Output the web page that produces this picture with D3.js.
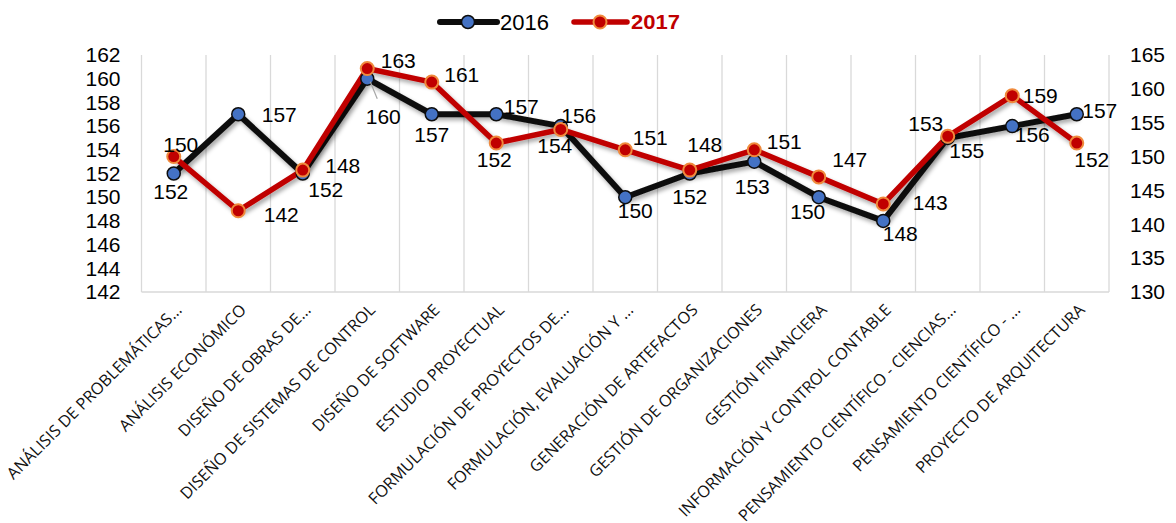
<!DOCTYPE html>
<html><head><meta charset="utf-8">
<script src="https://cdn.jsdelivr.net/npm/d3@7/dist/d3.min.js"></script>
<style>
body{margin:0;background:#fff;}
svg{display:block;}
</style></head>
<body>
<svg id="chart" width="1176" height="523"></svg>
<script>
const categories = [
  "ANÁLISIS DE PROBLEMÁTICAS...",
  "ANÁLISIS ECONÓMICO",
  "DISEÑO DE OBRAS DE...",
  "DISEÑO DE SISTEMAS DE CONTROL",
  "DISEÑO DE SOFTWARE",
  "ESTUDIO PROYECTUAL",
  "FORMULACIÓN DE PROYECTOS DE...",
  "FORMULACIÓN, EVALUACIÓN Y ...",
  "GENERACIÓN DE ARTEFACTOS",
  "GESTIÓN DE ORGANIZACIONES",
  "GESTIÓN FINANCIERA",
  "INFORMACIÓN Y CONTROL CONTABLE",
  "PENSAMIENTO CIENTÍFICO - CIENCIAS...",
  "PENSAMIENTO CIENTÍFICO - ...",
  "PROYECTO DE ARQUITECTURA"
];
const values2016 = [152,157,152,160,157,157,156,150,152,153,150,148,155,156,157];
const values2017 = [150,142,148,163,161,152,154,151,148,151,147,143,153,159,152];
const leftTicks = [142,144,146,148,150,152,154,156,158,160,162];
const rightTicks = [130,135,140,145,150,155,160,165];
const seriesNames = ["2016","2017"];

// label offsets (layout only)
const off2016 = [[-3,18],[41,0],[23,16],[16,38],[0,20],[25,-8],[18,-10],[10,13],[0,23],[-2,25],[-11,14],[17,13],[19,13],[20,9],[23,-4]];
const off2017 = [[7,-12],[43,4],[40,-4],[31,-8],[30,-7],[-2,17],[-6,16],[25,-12],[15,-25],[30,-8],[31,-17],[47,-1],[-22,-13],[28,0],[15,17]];

const svg = d3.select("#chart");
const pTop = 55, pBottom = 292, pLeft = 141.5, pRight = 1109;

const x = d3.scaleBand().domain(categories).range([pLeft, pRight]);
const yL = d3.scaleLinear().domain([142,162]).range([pBottom, pTop]);
const yR = d3.scaleLinear().domain([130,165]).range([pBottom, pTop]);

const defs = svg.append("defs");
const f = defs.append("filter").attr("id","sh").attr("x","-10%").attr("y","-10%").attr("width","120%").attr("height","130%");
f.append("feDropShadow").attr("dx",2).attr("dy",3).attr("stdDeviation",2).attr("flood-color","#000").attr("flood-opacity",0.35);

// gridlines
const bounds = categories.map(c => x(c)).concat([pRight]);
svg.append("g").selectAll("line").data(bounds).join("line")
  .attr("x1", d=>d).attr("x2", d=>d).attr("y1", pTop).attr("y2", pBottom)
  .attr("stroke","#d9d9d9").attr("stroke-width",1.3);
svg.append("line").attr("x1",pLeft).attr("x2",pRight).attr("y1",pBottom).attr("y2",pBottom)
  .attr("stroke","#d9d9d9").attr("stroke-width",1.3);

// axes
const font = "'Liberation Sans', Arial, sans-serif";
const gL = svg.append("g").attr("transform",`translate(${pLeft},0)`)
  .call(d3.axisLeft(yL).tickValues(leftTicks).tickSize(0).tickPadding(21));
const gR = svg.append("g").attr("transform",`translate(${pRight},0)`)
  .call(d3.axisRight(yR).tickValues(rightTicks).tickSize(0).tickPadding(21));
[gL,gR].forEach(g=>{
  g.select(".domain").remove();
  g.selectAll("text").attr("font-family",font).attr("font-size",21).attr("fill","#000").attr("dy","0.32em");
});

// x labels
const gx = svg.append("g");
const xl = gx.selectAll("text").data(categories).join("text")
  .attr("transform", d=>`translate(${x(d)+x.bandwidth()/2+9},${pBottom+19}) rotate(-45)`)
  .attr("text-anchor","end")
  .attr("font-family","'Open Sans', 'Noto Sans', sans-serif")
  .attr("font-size",14)
  .attr("fill","#111")
  .text(d=>d);
const ref = xl.filter((d,i)=>i===3).node().getComputedTextLength();
const fs = 14*268/ref;
xl.attr("font-size",fs);

// lines
function drawSeries(vals, scale, lineColor, lineW){
  const pts = vals.map((v,i)=>[x(categories[i])+x.bandwidth()/2, scale(v)]);
  svg.append("path").datum(pts).attr("d", d3.line())
    .attr("fill","none").attr("stroke",lineColor).attr("stroke-width",lineW)
    .attr("stroke-linejoin","round").attr("filter","url(#sh)");
  return pts;
}
const p16 = drawSeries(values2016, yL, "#0d0d0d", 6);
const p17 = drawSeries(values2017, yR, "#c00000", 5.5);

svg.append("g").selectAll("circle").data(p16).join("circle")
  .attr("cx",d=>d[0]).attr("cy",d=>d[1]).attr("r",6.5)
  .attr("fill","#4472c4").attr("stroke","#0d0d0d").attr("stroke-width",1.5);
svg.append("g").selectAll("circle").data(p17).join("circle")
  .attr("cx",d=>d[0]).attr("cy",d=>d[1]).attr("r",6.5)
  .attr("fill","#c00000").attr("stroke","#f08a3c").attr("stroke-width",2);

// leader line for 2016 idx 3
svg.append("line").attr("x1",p16[3][0]+3).attr("y1",p16[3][1]+3).attr("x2",p16[3][0]+10).attr("y2",p16[3][1]+20)
  .attr("stroke","#a6a6a6").attr("stroke-width",1.2);

// data labels
function labels(pts, vals, offs){
  svg.append("g").selectAll("text").data(vals).join("text")
    .attr("x",(d,i)=>pts[i][0]+offs[i][0]).attr("y",(d,i)=>pts[i][1]+offs[i][1])
    .attr("text-anchor","middle").attr("dy","0.35em")
    .attr("font-family",font).attr("font-size",21).attr("fill","#000")
    .text(d=>d);
}
labels(p16, values2016, off2016);
labels(p17, values2017, off2017);

// legend
const lg = svg.append("g");
lg.append("line").attr("x1",440).attr("x2",497).attr("y1",22).attr("y2",22).attr("stroke","#0d0d0d").attr("stroke-width",6).attr("stroke-linecap","round");
lg.append("circle").attr("cx",468).attr("cy",22).attr("r",6.5).attr("fill","#4472c4").attr("stroke","#0d0d0d").attr("stroke-width",1.5);
lg.append("text").attr("x",500).attr("y",22).attr("dy","0.35em").attr("font-family",font).attr("font-size",22).attr("fill","#000").text(seriesNames[0]);
lg.append("line").attr("x1",574).attr("x2",627).attr("y1",22).attr("y2",22).attr("stroke","#c00000").attr("stroke-width",5.5).attr("stroke-linecap","round");
lg.append("circle").attr("cx",600).attr("cy",22).attr("r",6.5).attr("fill","#c00000").attr("stroke","#f08a3c").attr("stroke-width",2);
lg.append("text").attr("x",631).attr("y",22).attr("dy","0.35em").attr("font-family",font).attr("font-size",21).attr("font-weight","bold").attr("fill","#c00000").attr("textLength",49).attr("lengthAdjust","spacingAndGlyphs").text(seriesNames[1]);
</script>
</body></html>
